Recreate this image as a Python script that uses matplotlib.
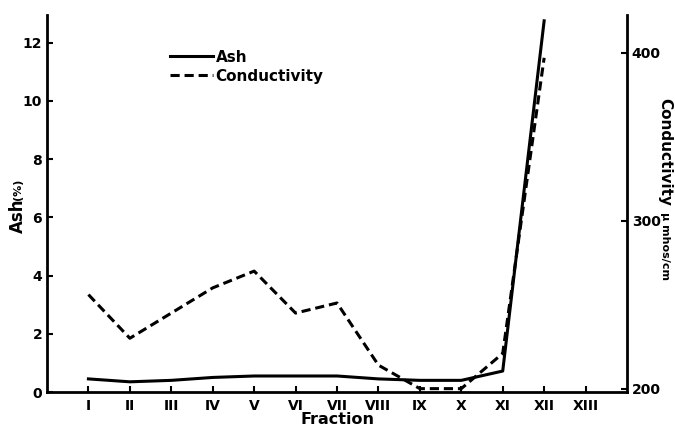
import matplotlib.pyplot as plt

fractions = ["I", "II", "III", "IV", "V", "VI", "VII", "VIII", "IX", "X", "XI", "XII", "XIII"]
ash_pos = list(range(1, 13))
ash = [0.45, 0.35, 0.4, 0.5, 0.55, 0.55, 0.55, 0.45, 0.4, 0.4, 0.72, 12.75]
cond = [256, 230, 245, 260, 270, 245, 251, 214, 200, 200, 221, 397]

plt.rcParams["font.family"] = "DejaVu Sans"
plt.rcParams["font.weight"] = "bold"

fig = plt.figure(figsize=(6.75, 4.29), dpi=100)
ax = fig.add_axes([47 / 675, 37 / 429, 580 / 675, 377 / 429])
ax2 = ax.twinx()

l1, = ax.plot(ash_pos, ash, color="black", lw=2.2, label="Ash")
l2, = ax2.plot(ash_pos, cond, color="black", lw=2.2, dashes=(3, 1.6), label="Conductivity")

ax.set_xlim(0, 14)
ax.set_ylim(0, 12.95)
ax2.set_ylim(198, 422.5)
ax.set_xticks(range(1, 14))
ax.set_xticklabels(fractions)
ax.set_yticks(range(0, 13, 2))
ax2.set_yticks([200, 300, 400])

for a in (ax, ax2):
    a.spines["top"].set_visible(False)
    for s in a.spines.values():
        s.set_linewidth(2)
    a.tick_params(direction="in", length=4, width=1.5, labelsize=10)
ax.tick_params(axis="x", pad=5)
ax.spines["right"].set_visible(False)
ax2.spines["left"].set_visible(False)
ax2.spines["bottom"].set_visible(False)

ax.set_xlabel("Fraction", fontsize=11.5, fontweight="bold", labelpad=-1)

fig.text(18 / 675, 1 - 233 / 429, "Ash", rotation=90, fontsize=12, fontweight="bold",
         ha="center", va="bottom")
fig.text(18 / 675, 1 - 200 / 429, "(%)", rotation=90, fontsize=8, fontweight="bold",
         ha="center", va="bottom")
fig.text(665 / 675, 1 - 98 / 429, "Conductivity", rotation=270, fontsize=11, fontweight="bold",
         ha="center", va="top")
fig.text(665 / 675, 1 - 212 / 429, "\u03bc mhos/cm", rotation=270, fontsize=8, fontweight="bold",
         ha="center", va="top")

fig.legend(handles=[l1, l2], loc="upper left", bbox_to_anchor=(156 / 675, 1 - 36 / 429),
           frameon=False, handlelength=2.8, handletextpad=0.2, labelspacing=0.25,
           prop={"weight": "bold", "size": 11})

fig.savefig("out.png", dpi=100)
